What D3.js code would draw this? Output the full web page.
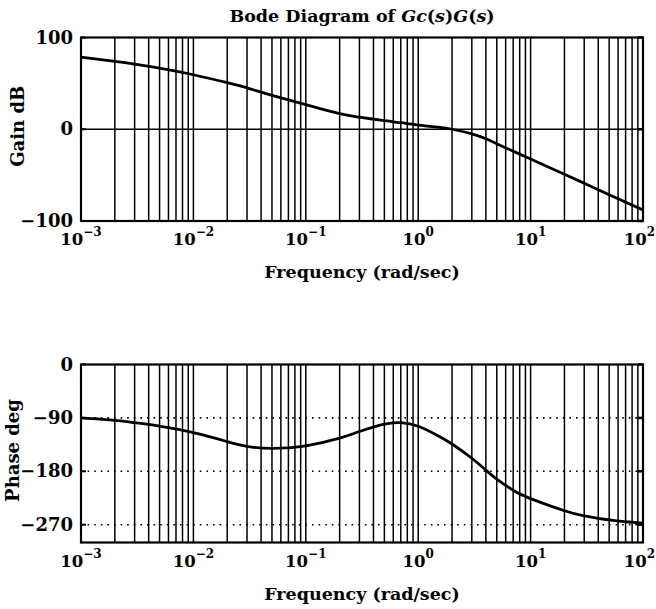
<!DOCTYPE html>
<html><head><meta charset="utf-8">
<script src="https://cdn.jsdelivr.net/npm/d3@7/dist/d3.min.js"></script>
<style>
html,body{margin:0;padding:0;background:#fff;}
svg{display:block;}
text{font-family:"DejaVu Serif",serif;font-weight:bold;fill:#000;}
</style></head>
<body>
<svg id="chart" width="656" height="609"></svg>
<script>
const freq = [0.001,0.002,0.003,0.005,0.01,0.02,0.03,0.05,0.1,0.2,0.3,0.5,0.7,1,1.5,2,3,4,5,7,10,20,30,50,70,100];
const gainDb = [78.6,74,71,66.6,59.4,50.7,45,37,26.8,17,13.1,9.3,7.1,4.6,2.2,0,-5,-10.3,-15.7,-23.9,-32.4,-49.1,-58.9,-71.3,-79.4,-88];
const phaseDeg = [-90,-94,-98,-104,-115,-130,-138,-141.5,-137,-124,-113,-100.5,-98,-104,-120,-134,-158,-178,-193,-212,-226,-246.5,-255,-262,-265,-267.5];
const gainTicks = [100,0,-100];
const phaseTicks = [0,-90,-180,-270];
const decadeExps = [-3,-2,-1,0,1,2];
const titleParts = [["Bode Diagram of ",false],["Gc",true],["(",false],["s",true],[")",false],["G",true],["(",false],["s",true],[")",false]];
const xLabel = "Frequency (rad/sec)";
const gainLabel = "Gain dB";
const phaseLabel = "Phase deg";

const svg = d3.select("#chart");
const W = 656;
const L = 81, R = 643;
const x = d3.scaleLog().domain([1e-3,1e2]).range([L,R]);

const gridF = [];
for (let e=-3; e<2; e++) for (let m=1; m<=9; m++) { if(!(e===-3 && m===1)) gridF.push(m*Math.pow(10,e)); }

function panel(top, bottom, yDomain, yTicks, values, dottedTicks, solidTicks, ylab, ylabX) {
  const y = d3.scaleLinear().domain(yDomain).range([bottom, top]);
  const g = svg.append("g");
  g.selectAll("line.v").data(gridF).join("line")
    .attr("x1", d=>x(d)).attr("x2", d=>x(d)).attr("y1", top).attr("y2", bottom)
    .attr("stroke","#000").attr("stroke-width",1.5);
  g.selectAll("line.hd").data(dottedTicks).join("line")
    .attr("x1", L).attr("x2", R).attr("y1", d=>y(d)).attr("y2", d=>y(d))
    .attr("stroke","#000").attr("stroke-width",1.6).attr("stroke-dasharray","1.6,5");
  g.selectAll("line.hs").data(solidTicks).join("line")
    .attr("x1", L).attr("x2", R).attr("y1", d=>y(d)).attr("y2", d=>y(d))
    .attr("stroke","#000").attr("stroke-width",1.5);
  g.selectAll("line.tl").data(yTicks).join("line")
    .attr("x1", L).attr("x2", L+5).attr("y1", d=>y(d)).attr("y2", d=>y(d))
    .attr("stroke","#000").attr("stroke-width",2);
  g.selectAll("line.tr").data(yTicks).join("line")
    .attr("x1", R-5).attr("x2", R).attr("y1", d=>y(d)).attr("y2", d=>y(d))
    .attr("stroke","#000").attr("stroke-width",2.5);
  g.append("rect").attr("x",L).attr("y",top).attr("width",R-L).attr("height",bottom-top)
    .attr("fill","none").attr("stroke","#000").attr("stroke-width",2.2);
  const line = d3.line().x((d,i)=>x(freq[i])).y(d=>y(d)).curve(d3.curveNatural);
  g.append("path").datum(values).attr("d",line).attr("fill","none")
    .attr("stroke","#000").attr("stroke-width",2.8).attr("stroke-linejoin","round");
  g.selectAll("text.yt").data(yTicks).join("text")
    .attr("x", L-8).attr("y", d=>y(d)+6).attr("text-anchor","end")
    .attr("font-size",18).text(d=> d<0 ? "\u2212"+Math.abs(d) : String(d));
  const last = decadeExps[decadeExps.length-1];
  const xt = g.selectAll("text.xt").data(decadeExps).join("text")
    .attr("x", d=> d===last ? W-1 : x(Math.pow(10,d)))
    .attr("y", bottom+24)
    .attr("text-anchor", d=> d===last ? "end" : "middle")
    .attr("font-size",16.5);
  xt.append("tspan").text("10");
  xt.append("tspan").attr("dy",-9).attr("font-size",12).text(d=> d<0 ? "\u2212"+Math.abs(d) : String(d));
  g.append("text").attr("x",(L+R)/2).attr("y",bottom+57).attr("text-anchor","middle")
    .attr("font-size",17.5).text(xLabel);
  g.append("text").attr("transform",`translate(${ylabX},${(top+bottom)/2 - 3}) rotate(-90)`)
    .attr("text-anchor","middle").attr("font-size",18).text(ylab);
  return y;
}

panel(37.5, 221, [-100,100], gainTicks, gainDb, [], [0], gainLabel, 24);
panel(364.5, 542.5, [-300,0], phaseTicks, phaseDeg, [-90,-180,-270], [], phaseLabel, 19);

const t = svg.append("text").attr("x",(L+R)/2).attr("y",22).attr("text-anchor","middle").attr("font-size",17.5);
titleParts.forEach(([s,it])=>{ const ts=t.append("tspan").text(s); if(it) ts.attr("font-style","italic"); });
</script>
</body></html>
